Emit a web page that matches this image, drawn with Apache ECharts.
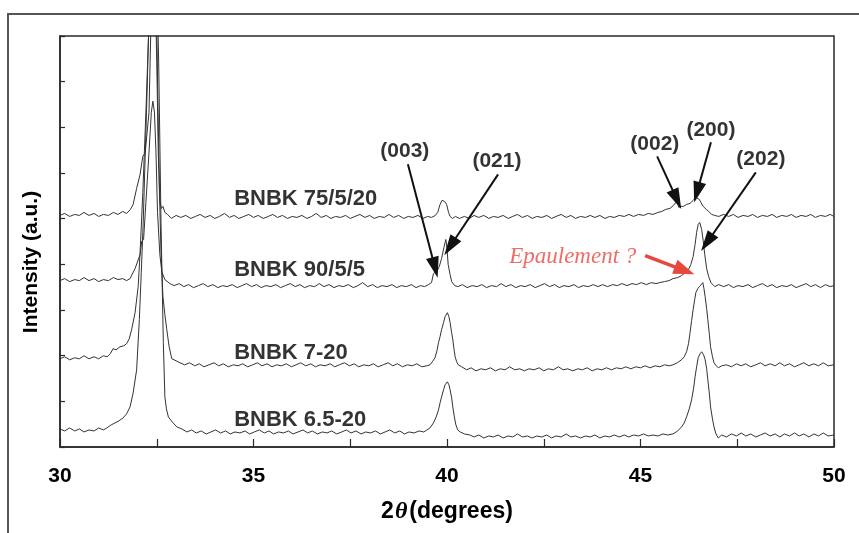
<!DOCTYPE html>
<html><head><meta charset="utf-8">
<script src="https://cdn.jsdelivr.net/npm/echarts@6/dist/echarts.min.js"></script>
<style>html,body{margin:0;padding:0;background:#fff}#c{width:859px;height:533px}</style>
</head><body><div id="c"></div>
<script>
// 2θ (degrees) vs intensity (a.u., stacked traces)
const xTicks = [30, 35, 40, 45, 50];
const seriesNames = ['BNBK 75/5/20', 'BNBK 90/5/5', 'BNBK 7-20', 'BNBK 6.5-20'];

const bnbk75_5_20 = [[30.00,227],[30.12,229],[30.25,226],[30.38,228],[30.50,227],[30.62,230],[30.75,227],[30.88,229],[31.00,226],[31.12,228],[31.25,227],[31.38,230],[31.50,228],[31.62,231],[31.72,229],[31.82,233],[31.89,238],[31.98,254],[32.07,268],[32.14,286],[32.20,289],[32.25,290],[32.30,330],[32.34,400],[32.38,470],[32.45,470],[32.50,380],[32.54,288],[32.58,242],[32.62,234],[32.66,236],[32.71,230],[32.78,228],[32.88,224],[33.00,227],[33.12,225],[33.25,227],[33.38,224],[33.50,226],[33.62,228],[33.75,225],[33.88,227],[34.00,224],[34.12,226],[34.25,229],[34.38,225],[34.50,227],[34.62,224],[34.75,226],[34.88,228],[35.00,225],[35.12,227],[35.25,224],[35.38,226],[35.50,228],[35.62,225],[35.75,227],[35.88,224],[36.00,226],[36.12,225],[36.25,227],[36.38,224],[36.50,226],[36.62,229],[36.75,225],[36.88,227],[37.00,224],[37.12,226],[37.25,225],[37.38,227],[37.50,224],[37.62,226],[37.75,228],[37.88,225],[38.00,227],[38.12,224],[38.25,226],[38.38,225],[38.50,228],[38.62,225],[38.75,227],[38.88,224],[39.00,226],[39.12,225],[39.25,227],[39.38,224],[39.50,226],[39.60,225],[39.70,227],[39.76,230],[39.82,238],[39.87,242],[39.90,243],[39.94,241],[39.99,238],[40.04,230],[40.08,226],[40.14,224],[40.22,226],[40.32,224],[40.45,226],[40.58,224],[40.70,227],[40.82,225],[40.95,227],[41.08,224],[41.20,226],[41.32,225],[41.45,227],[41.58,224],[41.70,226],[41.82,228],[41.95,225],[42.08,227],[42.20,224],[42.32,226],[42.45,225],[42.58,227],[42.70,224],[42.82,226],[42.95,228],[43.08,225],[43.20,227],[43.32,224],[43.45,226],[43.58,225],[43.70,227],[43.82,225],[43.95,227],[44.08,224],[44.20,226],[44.32,225],[44.45,227],[44.58,226],[44.70,228],[44.82,226],[44.95,228],[45.08,227],[45.20,229],[45.32,228],[45.45,230],[45.55,231],[45.65,233],[45.76,234],[45.85,237],[45.94,241],[45.99,235],[46.05,236],[46.11,236],[46.19,238],[46.28,239],[46.36,242],[46.43,245],[46.47,246],[46.52,243],[46.56,240],[46.62,236],[46.70,233],[46.76,231],[46.84,228],[46.92,227],[47.02,226],[47.15,228],[47.28,226],[47.40,228],[47.52,225],[47.65,227],[47.78,226],[47.90,228],[48.02,225],[48.15,227],[48.28,226],[48.40,228],[48.52,225],[48.65,227],[48.78,226],[48.90,228],[49.02,225],[49.15,227],[49.28,226],[49.40,228],[49.52,225],[49.65,227],[49.78,226],[49.90,228],[50.00,226]];

const bnbk90_5_5 = [[30.00,162],[30.12,164],[30.25,161],[30.38,163],[30.50,162],[30.62,165],[30.75,162],[30.88,164],[31.00,161],[31.12,163],[31.25,162],[31.38,165],[31.50,163],[31.62,164],[31.72,162],[31.81,164],[31.94,174],[32.07,188],[32.11,201],[32.16,203],[32.22,240],[32.30,290],[32.36,330],[32.40,341],[32.44,330],[32.48,290],[32.52,230],[32.58,188],[32.63,171],[32.71,163],[32.84,159],[32.95,157],[33.08,159],[33.20,156],[33.32,158],[33.45,155],[33.58,157],[33.70,159],[33.82,156],[33.95,158],[34.08,155],[34.20,157],[34.32,156],[34.45,158],[34.58,155],[34.70,157],[34.82,159],[34.95,156],[35.08,158],[35.20,155],[35.32,157],[35.45,156],[35.58,158],[35.70,155],[35.82,157],[35.95,159],[36.08,156],[36.20,158],[36.32,155],[36.45,157],[36.58,156],[36.70,159],[36.82,156],[36.95,158],[37.08,155],[37.20,157],[37.32,156],[37.45,158],[37.58,155],[37.70,157],[37.82,160],[37.95,156],[38.08,158],[38.20,155],[38.32,157],[38.45,156],[38.58,158],[38.70,155],[38.82,157],[38.95,156],[39.08,158],[39.20,155],[39.32,157],[39.42,156],[39.52,158],[39.60,160],[39.65,169],[39.70,170],[39.75,172],[39.80,176],[39.86,184],[39.92,195],[39.97,203],[40.00,194],[40.03,178],[40.08,168],[40.12,161],[40.20,157],[40.28,156],[40.40,158],[40.52,155],[40.65,157],[40.78,156],[40.90,158],[41.02,155],[41.15,157],[41.28,156],[41.40,159],[41.52,156],[41.65,158],[41.78,155],[41.90,157],[42.02,156],[42.15,158],[42.28,155],[42.40,157],[42.52,159],[42.65,156],[42.78,158],[42.90,155],[43.02,157],[43.15,156],[43.28,158],[43.40,155],[43.52,157],[43.65,156],[43.78,158],[43.90,156],[44.02,158],[44.15,156],[44.28,158],[44.40,157],[44.52,159],[44.65,157],[44.78,159],[44.90,158],[45.02,160],[45.15,158],[45.28,160],[45.40,159],[45.50,160],[45.62,161],[45.74,162],[45.84,164],[45.96,165],[46.06,167],[46.16,170],[46.24,173],[46.30,178],[46.36,186],[46.41,198],[46.45,210],[46.49,218],[46.53,220],[46.58,213],[46.62,202],[46.66,188],[46.71,174],[46.76,166],[46.82,160],[46.92,156],[47.02,158],[47.15,156],[47.28,158],[47.40,155],[47.52,157],[47.65,156],[47.78,158],[47.90,155],[48.02,157],[48.15,159],[48.28,156],[48.40,158],[48.52,155],[48.65,157],[48.78,156],[48.90,158],[49.02,155],[49.15,157],[49.28,159],[49.40,156],[49.52,158],[49.65,155],[49.78,158],[49.90,156],[50.00,157]];

const bnbk7_20 = [[30.00,84],[30.12,86],[30.25,83],[30.38,85],[30.50,84],[30.62,87],[30.75,84],[30.88,86],[31.00,84],[31.12,87],[31.22,86],[31.30,89],[31.37,94],[31.45,93],[31.55,96],[31.65,97],[31.72,99],[31.79,104],[31.85,113],[31.94,130],[32.02,156],[32.07,190],[32.14,250],[32.22,330],[32.30,420],[32.36,470],[32.48,470],[32.53,340],[32.57,250],[32.61,190],[32.66,146],[32.71,128],[32.76,113],[32.82,96],[32.89,84],[33.00,82],[33.10,80],[33.22,78],[33.35,80],[33.48,77],[33.60,79],[33.72,76],[33.85,78],[33.98,80],[34.10,77],[34.22,79],[34.35,76],[34.48,78],[34.60,77],[34.72,79],[34.85,76],[34.98,78],[35.10,80],[35.22,77],[35.35,79],[35.48,76],[35.60,78],[35.72,77],[35.85,79],[35.98,76],[36.10,78],[36.22,80],[36.35,77],[36.48,79],[36.60,76],[36.72,78],[36.85,77],[36.98,79],[37.10,76],[37.22,78],[37.35,80],[37.48,77],[37.60,79],[37.72,76],[37.85,78],[37.98,77],[38.10,79],[38.22,76],[38.35,78],[38.48,80],[38.60,77],[38.72,79],[38.85,76],[38.98,78],[39.10,77],[39.22,79],[39.35,76],[39.48,77],[39.56,78],[39.62,81],[39.69,85],[39.74,92],[39.78,100],[39.82,106],[39.86,113],[39.91,120],[39.95,126],[40.01,130],[40.05,126],[40.08,120],[40.12,110],[40.15,103],[40.18,94],[40.21,86],[40.25,81],[40.29,78],[40.38,76],[40.51,73],[40.62,75],[40.75,72],[40.88,74],[41.00,73],[41.12,75],[41.25,72],[41.38,74],[41.50,73],[41.62,76],[41.75,73],[41.88,74],[42.00,72],[42.12,74],[42.25,73],[42.38,75],[42.50,72],[42.62,74],[42.75,73],[42.88,76],[43.00,73],[43.12,74],[43.25,72],[43.38,74],[43.50,73],[43.62,75],[43.75,72],[43.88,74],[44.00,73],[44.12,75],[44.25,73],[44.38,75],[44.50,74],[44.62,76],[44.75,74],[44.88,76],[45.00,75],[45.12,77],[45.25,75],[45.38,77],[45.50,76],[45.62,78],[45.74,77],[45.84,78],[45.95,80],[46.06,83],[46.13,86],[46.19,91],[46.24,99],[46.28,110],[46.32,122],[46.36,133],[46.40,143],[46.43,150],[46.48,154],[46.52,156],[46.57,158],[46.61,160],[46.64,154],[46.67,146],[46.71,134],[46.74,123],[46.78,108],[46.81,96],[46.86,86],[46.90,80],[46.96,77],[47.01,75],[47.10,77],[47.22,78],[47.35,76],[47.48,79],[47.60,77],[47.72,79],[47.85,76],[47.98,78],[48.10,80],[48.22,77],[48.35,79],[48.48,77],[48.60,80],[48.72,77],[48.85,79],[48.98,76],[49.10,78],[49.22,80],[49.35,77],[49.48,79],[49.60,77],[49.72,80],[49.85,77],[50.00,78]];

const bnbk6_5_20 = [[30.00,14],[30.12,12],[30.25,15],[30.38,12],[30.50,14],[30.62,11],[30.75,13],[30.88,12],[31.00,15],[31.12,13],[31.21,15],[31.32,18],[31.42,20],[31.52,22],[31.63,25],[31.72,29],[31.81,36],[31.89,50],[31.98,73],[32.05,123],[32.10,170],[32.15,220],[32.25,350],[32.33,470],[32.50,470],[32.55,380],[32.58,300],[32.61,220],[32.64,160],[32.67,100],[32.71,46],[32.75,34],[32.80,26],[32.90,21],[33.02,16],[33.15,14],[33.28,11],[33.40,13],[33.52,10],[33.65,12],[33.78,9],[33.90,11],[34.02,13],[34.15,10],[34.28,12],[34.40,9],[34.52,11],[34.65,10],[34.78,12],[34.90,9],[35.02,11],[35.15,13],[35.28,10],[35.40,12],[35.52,9],[35.65,11],[35.78,10],[35.90,12],[36.02,9],[36.15,11],[36.28,13],[36.40,10],[36.52,12],[36.65,9],[36.78,11],[36.90,10],[37.02,12],[37.15,9],[37.28,11],[37.40,13],[37.52,10],[37.65,12],[37.78,9],[37.90,11],[38.02,10],[38.15,12],[38.28,9],[38.40,11],[38.52,13],[38.65,10],[38.78,12],[38.90,9],[39.02,11],[39.15,10],[39.28,12],[39.40,11],[39.48,13],[39.56,15],[39.65,20],[39.72,26],[39.78,33],[39.82,40],[39.86,46],[39.91,53],[39.95,58],[40.01,61],[40.05,58],[40.08,53],[40.12,45],[40.15,36],[40.19,26],[40.23,18],[40.28,13],[40.34,11],[40.45,9],[40.59,8],[40.70,6],[40.82,8],[40.95,5],[41.08,7],[41.20,6],[41.32,8],[41.45,5],[41.58,7],[41.70,6],[41.82,9],[41.95,6],[42.08,7],[42.20,5],[42.32,7],[42.45,6],[42.58,8],[42.70,5],[42.82,7],[42.95,6],[43.08,9],[43.20,6],[43.32,7],[43.45,5],[43.58,7],[43.70,6],[43.82,8],[43.95,5],[44.08,7],[44.20,6],[44.32,8],[44.45,6],[44.58,8],[44.70,6],[44.82,8],[44.95,7],[45.08,9],[45.20,7],[45.32,8],[45.45,7],[45.58,9],[45.70,8],[45.84,9],[45.96,12],[46.06,16],[46.13,20],[46.19,26],[46.26,34],[46.32,43],[46.37,54],[46.41,66],[46.45,76],[46.49,85],[46.54,89],[46.58,91],[46.63,88],[46.67,83],[46.71,74],[46.74,63],[46.78,49],[46.81,36],[46.86,24],[46.90,16],[46.95,9],[47.01,5],[47.10,8],[47.22,6],[47.35,9],[47.48,7],[47.60,10],[47.72,7],[47.85,9],[47.98,6],[48.10,8],[48.22,10],[48.35,7],[48.48,9],[48.60,6],[48.72,9],[48.85,7],[48.98,10],[49.10,7],[49.22,9],[49.35,6],[49.48,9],[49.60,7],[49.72,10],[49.85,7],[50.00,8]];

// sample labels: [text, x(deg), y(a.u.)]
const sampleLabels = [['BNBK 75/5/20', 34.50, 243], ['BNBK 90/5/5', 34.50, 173], ['BNBK 7-20', 34.50, 90], ['BNBK 6.5-20', 34.50, 23]];
// reflection labels: [text, x, y]
const hklLabels = [['(003)', 38.91, 291], ['(021)', 41.29, 281], ['(002)', 45.37, 298], ['(200)', 46.82, 312], ['(202)', 48.11, 283]];
// arrows: [x1, y1, x2, y2]
const hklArrows = [[38.99, 278, 39.69, 175], [41.32, 268, 40.08, 196], [45.43, 286, 45.94, 243], [46.82, 300, 46.46, 250], [47.98, 270, 46.72, 200]];
const noteLabel = ['Epaulement ?', 43.25, 186];
const noteArrow = [45.12, 187, 46.14, 172];

const chart = echarts.init(document.getElementById('c'), null, {renderer: 'canvas'});
const FONT = '"Liberation Sans", Arial, Helvetica, sans-serif';
const TXT = '#000';
const traceStyle = {color: '#333', width: 1};

const traces = [bnbk75_5_20, bnbk90_5_5, bnbk7_20, bnbk6_5_20].map((d, i) => ({
  name: seriesNames[i], type: 'line', data: d, showSymbol: false, symbol: 'none',
  lineStyle: traceStyle, clip: true, silent: true, animation: false, z: 2
}));

const arrowLines = hklArrows.map(a => [{coord: [a[0], a[1]]}, {coord: [a[2], a[3]]}]);

const option = {
  animation: false,
  backgroundColor: '#fff',
  grid: {left: 60, right: 25, top: 36, bottom: 86, show: true, borderColor: '#2a2a2a', borderWidth: 1.5},
  xAxis: {
    type: 'value', min: 30, max: 50, interval: 2.5,
    axisLine: {show: true, onZero: false, lineStyle: {color: '#2a2a2a', width: 1.5}},
    axisTick: {show: true, inside: true, length: 8, lineStyle: {color: '#2a2a2a', width: 1.2}},
    splitLine: {show: false},
    axisLabel: {
      margin: 19, color: TXT, fontFamily: FONT, fontWeight: 'bold', fontSize: 21,
      formatter: v => xTicks.includes(v) ? String(v) : ''
    },
    name: '{n|2}{t|θ}{n|(degrees)}', nameLocation: 'middle', nameGap: 53,
    nameTextStyle: {rich: {
      n: {fontFamily: FONT, fontWeight: 'bold', fontSize: 23, color: TXT},
      t: {fontFamily: '"Liberation Serif", serif', fontStyle: 'italic', fontWeight: 'bold', fontSize: 24, color: TXT, padding: [0, 2, 0, 1]}
    }}
  },
  yAxis: {
    type: 'value', min: -4, max: 406, interval: 410 / 9,
    axisLine: {show: true, onZero: false, lineStyle: {color: '#2a2a2a', width: 1.5}},
    axisTick: {show: true, inside: true, length: 5, lineStyle: {color: '#2a2a2a', width: 1.2}},
    splitLine: {show: false},
    axisLabel: {show: false}
  },
  series: [
    ...traces,
    {
      type: 'scatter', symbolSize: 0, silent: true, z: 5,
      data: sampleLabels.map(s => ({value: [s[1], s[2]], name: s[0]})),
      label: {show: true, position: 'right', distance: 0, formatter: p => p.name,
        fontFamily: FONT, fontWeight: 'bold', fontSize: 22, color: TXT}
    },
    {
      type: 'scatter', symbolSize: 0, silent: true, z: 5,
      data: hklLabels.map(s => ({value: [s[1], s[2]], name: s[0]})),
      label: {show: true, position: 'inside', formatter: p => p.name,
        fontFamily: FONT, fontWeight: 'bold', fontSize: 21, color: TXT},
      markLine: {
        silent: true, symbol: ['none', 'triangle'], symbolSize: [13, 21],
        lineStyle: {color: '#111', width: 2, type: 'solid'},
        label: {show: false}, animation: false,
        data: arrowLines
      }
    },
    {
      type: 'scatter', symbolSize: 0, silent: true, z: 5,
      data: [{value: [noteLabel[1], noteLabel[2]], name: noteLabel[0]}],
      label: {show: true, position: 'inside', formatter: p => p.name,
        fontFamily: '"Liberation Serif", "Times New Roman", serif', fontStyle: 'italic', fontSize: 23, color: '#e8473e'},
      markLine: {
        silent: true, symbol: ['none', 'triangle'], symbolSize: [15, 21],
        lineStyle: {color: '#e8473e', width: 3.5, type: 'solid'},
        label: {show: false}, animation: false,
        data: [[{coord: [noteArrow[0], noteArrow[1]]}, {coord: [noteArrow[2], noteArrow[3]]}]]
      }
    }
  ],
  graphic: [{
    type: 'polyline', silent: true, z: 0,
    shape: {points: [[8, 533], [8, 14], [859, 14]]},
    style: {stroke: '#555', lineWidth: 2, fill: null}
  }, {
    type: 'text', silent: true, z: 10, x: 31, y: 262, rotation: Math.PI / 2,
    style: {text: 'Intensity (a.u.)', fontFamily: FONT, fontWeight: 'bold', fontSize: 21,
      fill: TXT, align: 'center', verticalAlign: 'middle'}
  }]
};
chart.setOption(option);
</script></body></html>
